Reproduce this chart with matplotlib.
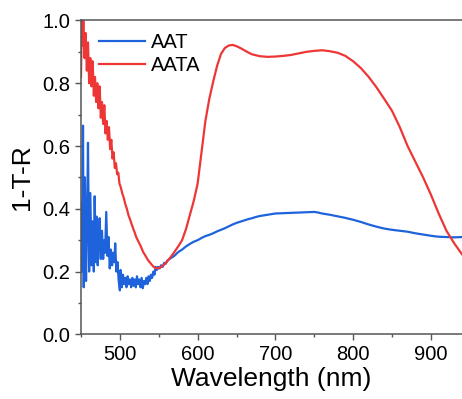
import matplotlib
matplotlib.use("Agg")
import matplotlib.pyplot as plt
from matplotlib.ticker import MultipleLocator

plt.rcParams['font.family'] = ['Liberation Sans', 'DejaVu Sans']

# AAT spectrum (wavelength in nm, 1-T-R)
aat_wl = [450, 451.5, 452.6, 453.5, 455, 456.5, 458, 459, 460.5, 462, 463.5, 465, 466.5, 467.6, 469,
          470, 471.5, 473, 474, 475.5, 477, 478.5, 480, 481, 482.5, 484, 485.5, 487, 488.5, 490,
          491.5, 493, 494, 495.5, 497, 498.5, 500, 501, 502.5, 504, 505.5, 507, 508.5, 510, 511.5,
          513, 514.5, 516, 517.5, 519, 520.5, 522, 523.5, 525, 526.5, 528, 529.5, 531, 532.5, 534,
          535.5, 537, 538.5, 540, 541.5, 543, 544.5, 546, 547.5, 549, 551, 553, 555, 557, 559,
          561, 565, 570, 575, 580, 585, 590, 595, 600, 605, 610, 615, 620, 625, 630,
          635, 640, 645, 650, 655, 660, 665, 670, 675, 680, 685, 690, 695, 700, 710,
          720, 730, 740, 750, 755, 760, 770, 780, 790, 800, 810, 820, 830, 840, 850,
          860, 870, 880, 890, 900, 910, 920, 930, 940]
aat_val = [0.42, 0.20, 0.665, 0.15, 0.50, 0.17, 0.40, 0.61, 0.20, 0.45, 0.22, 0.36, 0.20, 0.44, 0.23,
           0.375, 0.22, 0.30, 0.37, 0.24, 0.33, 0.24, 0.30, 0.26, 0.39, 0.25, 0.31, 0.21, 0.27, 0.22,
           0.26, 0.23, 0.29, 0.20, 0.23, 0.17, 0.14, 0.205, 0.15, 0.19, 0.16, 0.18, 0.15, 0.185, 0.16,
           0.175, 0.15, 0.18, 0.155, 0.175, 0.15, 0.185, 0.16, 0.175, 0.15, 0.18, 0.147, 0.17, 0.16, 0.18,
           0.16, 0.185, 0.17, 0.19, 0.18, 0.20, 0.19, 0.215, 0.205, 0.215, 0.21, 0.22, 0.215, 0.228, 0.225,
           0.235, 0.242, 0.25, 0.262, 0.27, 0.28, 0.288, 0.295, 0.30, 0.307, 0.313, 0.317, 0.322, 0.328, 0.333,
           0.338, 0.344, 0.35, 0.355, 0.359, 0.363, 0.367, 0.37, 0.374, 0.377, 0.379, 0.381, 0.383, 0.385, 0.386,
           0.387, 0.388, 0.389, 0.39, 0.388, 0.385, 0.381, 0.376, 0.371, 0.365, 0.358, 0.35, 0.343, 0.337, 0.333,
           0.33, 0.327, 0.322, 0.318, 0.314, 0.311, 0.31, 0.309, 0.31]

# AATA spectrum
aata_wl = [450, 451, 452, 453, 454.5, 456, 457.5, 459, 460.5, 462, 463.5, 465, 466.5, 468, 469.5,
           471, 472.5, 474, 475.5, 477, 478.5, 480, 481.5, 483, 484.5, 486, 487.5, 489, 490.5, 492,
           493.5, 495, 496.5, 498, 499.5, 501, 503, 505, 507, 509, 511, 513, 515, 517, 519,
           521, 524, 527, 530, 533, 536, 540, 543, 546, 549, 552, 556, 560, 565, 570,
           575, 580, 585, 590, 595, 600, 605, 610, 615, 620, 625, 630, 635, 640, 645,
           650, 655, 660, 665, 670, 680, 690, 700, 710, 720, 730, 740, 750, 760, 770,
           780, 790, 800, 810, 820, 830, 840, 850, 860, 870, 880, 890, 900, 910, 920,
           930, 940]
aata_val = [0.82, 1.00, 0.92, 1.00, 0.88, 0.96, 0.84, 0.93, 0.80, 0.88, 0.79, 0.87, 0.76, 0.82, 0.74,
            0.80, 0.72, 0.79, 0.69, 0.74, 0.67, 0.73, 0.64, 0.68, 0.62, 0.66, 0.59, 0.62, 0.56, 0.58,
            0.53, 0.545, 0.51, 0.515, 0.48, 0.47, 0.45, 0.435, 0.415, 0.40, 0.38, 0.367, 0.352, 0.338, 0.325,
            0.31, 0.295, 0.28, 0.262, 0.25, 0.237, 0.225, 0.216, 0.211, 0.21, 0.213, 0.22, 0.23, 0.245, 0.262,
            0.28, 0.30, 0.335, 0.38, 0.425, 0.48, 0.58, 0.68, 0.75, 0.805, 0.855, 0.893, 0.912, 0.92, 0.922,
            0.918, 0.912, 0.905, 0.898, 0.892, 0.886, 0.884, 0.885, 0.887, 0.89, 0.895, 0.90, 0.903, 0.905, 0.902,
            0.897, 0.887, 0.87, 0.848, 0.82, 0.787, 0.75, 0.712, 0.66, 0.60, 0.55, 0.50, 0.445, 0.385, 0.33,
            0.29, 0.255]

fig = plt.figure(figsize=(4.62, 3.99), dpi=100)
ax = fig.add_axes([0.1753, 0.162, 0.8247, 0.7868])

ax.plot(aat_wl, aat_val, color="#1f63dc", lw=1.6, label="AAT")
ax.plot(aata_wl, aata_val, color="#ee3636", lw=1.6, label="AATA")

ax.set_xlim(450, 940)
ax.set_ylim(0.0, 1.0)
ax.xaxis.set_major_locator(MultipleLocator(100))
ax.xaxis.set_minor_locator(MultipleLocator(50))
ax.yaxis.set_major_locator(MultipleLocator(0.2))
ax.yaxis.set_minor_locator(MultipleLocator(0.1))
ax.yaxis.set_major_formatter(plt.FuncFormatter(lambda v, p: f"{v:.1f}"))

spine_c = "#555555"
for s in ("left", "bottom", "top"):
    ax.spines[s].set_color(spine_c)
    ax.spines[s].set_linewidth(1.1)
ax.spines["right"].set_visible(False)

ax.tick_params(which="both", direction="out", color=spine_c, width=1.0,
               top=False, right=False, labelsize=14.5, pad=3)
ax.tick_params(which="major", length=4.5)
ax.tick_params(which="minor", length=2.5)

ax.set_xlabel("Wavelength (nm)", fontsize=19, labelpad=2)
ax.set_ylabel("1-T-R", fontsize=19, labelpad=6)

ax.legend(loc="upper left", bbox_to_anchor=(0.01, 1.005), frameon=False,
          fontsize=14.5, handlelength=2.3, handletextpad=0.3,
          labelspacing=0.2, borderaxespad=0.3, borderpad=0.4)

fig.savefig("out.png", dpi=100)
